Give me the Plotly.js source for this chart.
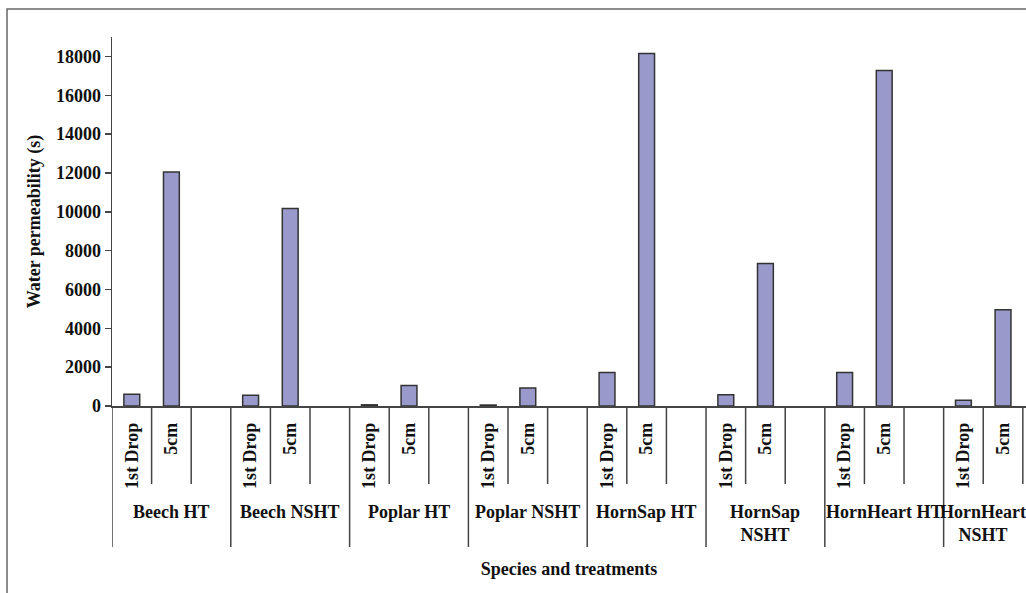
<!DOCTYPE html>
<html>
<head>
<meta charset="utf-8">
<script src="https://cdn.plot.ly/plotly-3.0.1.min.js"></script>
<style>html,body{margin:0;padding:0;background:#fff;}#chart{width:1026px;height:593px;}</style>
</head>
<body>
<div id="chart"></div>
<script>
// ---- data ----
const groups = ["Beech HT", "Beech NSHT", "Poplar HT", "Poplar NSHT", "HornSap HT", "HornSap<br>NSHT", "HornHeart HT", "HornHeart<br>NSHT"];
const subLabels = ["1st Drop", "5cm"];
const firstDrop = [600, 550, 60, 50, 1720, 580, 1720, 300];
const fiveCm = [12050, 10170, 1050, 930, 18150, 7340, 17270, 4960];
const yTickValues = [0, 2000, 4000, 6000, 8000, 10000, 12000, 14000, 16000, 18000];
const yTickLabels = ["0", "2000", "4000", "6000", "8000", "10000", "12000", "14000", "16000", "18000"];
const yTitle = "Water permeability (s)";
const xTitle = "Species and treatments";

// ---- category slots: each group has 3 slots (two bars + one empty) ----
const SLOTS = 3;
const pos = (g, s) => g * SLOTS + s;
const xFirst = groups.map((_, g) => pos(g, 0));
const xFive = groups.map((_, g) => pos(g, 1));

const FONT = "Liberation Serif, Times New Roman, serif";
const AX = "#444";
const BAR = "#9999cc";

const tickVals = [], tickText = [];
groups.forEach((_, g) => {
  subLabels.forEach((lab, s) => { tickVals.push(pos(g, s)); tickText.push(lab); });
});

const barStyle = {color: BAR, line: {color: "#333", width: 1.5}};
const traces = [
  {type: "bar", name: subLabels[0], x: xFirst, y: firstDrop, width: 0.4, marker: barStyle, hoverinfo: "y"},
  {type: "bar", name: subLabels[1], x: xFive, y: fiveCm, width: 0.4, marker: barStyle, hoverinfo: "y"}
];

// plot area geometry (pixels) used for the axis-table lines
const T = 37, B = 187, H = 593 - T - B;
const pf = px => -px / H; // distance below the x axis in paper units

const shapes = [];
groups.forEach((_, g) => {
  // group boundary (long line)
  shapes.push({type: "line", xref: "x", yref: "paper", x0: pos(g, 0) - 0.5, x1: pos(g, 0) - 0.5, y0: 0, y1: pf(141), line: {color: AX, width: 1.5}});
  // slot boundaries (short lines)
  [0.5, 1.5].forEach(d => {
    shapes.push({type: "line", xref: "x", yref: "paper", x0: pos(g, 0) + d, x1: pos(g, 0) + d, y0: 0, y1: pf(78), line: {color: AX, width: 1.5}});
  });
});
// outer chart frame
shapes.push({type: "rect", xref: "paper", yref: "paper", x0: -105 / 914, x1: 1.02, y0: -0.6, y1: (H + 28) / H, line: {color: "#666", width: 1.5}, fillcolor: "rgba(0,0,0,0)"});

const lastG = groups.length - 1;
const annotations = groups.map((name, g) => ({
  text: name, xref: "x", yref: "paper",
  x: g === lastG ? pos(g, 0) + 0.5 : pos(g, 0) + 1,
  y: 0, yshift: -94, yanchor: "top", xanchor: "center", showarrow: false,
  font: {family: FONT, size: 18, color: "#111", weight: "bold"}
}));

const layout = {
  width: 1026, height: 593,
  margin: {l: 112, r: 0, t: T, b: B},
  paper_bgcolor: "#fff", plot_bgcolor: "#fff",
  showlegend: false, bargap: 0,
  font: {family: FONT, size: 18, color: "#111", weight: "bold"},
  xaxis: {
    range: [-0.5, 22.58], showgrid: false, zeroline: false,
    showline: true, linecolor: AX, linewidth: 1.5,
    tickmode: "array", tickvals: tickVals, ticktext: tickText, tickangle: -90,
    ticks: "", ticklabelstandoff: 8,
    tickfont: {family: FONT, size: 18, color: "#111", weight: "bold"},
    title: {text: xTitle, standoff: 74, font: {family: FONT, size: 18, color: "#111", weight: "bold"}}
  },
  yaxis: {
    range: [0, 19000], showgrid: false, zeroline: false,
    showline: true, linecolor: AX, linewidth: 1.5,
    tickmode: "array", tickvals: yTickValues, ticktext: yTickLabels,
    ticks: "outside", ticklen: 6, tickcolor: AX, tickwidth: 1.5,
    tickfont: {family: FONT, size: 18, color: "#111", weight: "bold"},
    title: {text: yTitle, standoff: 10, font: {family: FONT, size: 18, color: "#111", weight: "bold"}}
  },
  shapes: shapes,
  annotations: annotations
};

Plotly.newPlot("chart", traces, layout, {displayModeBar: false, staticPlot: true});
</script>
</body>
</html>
